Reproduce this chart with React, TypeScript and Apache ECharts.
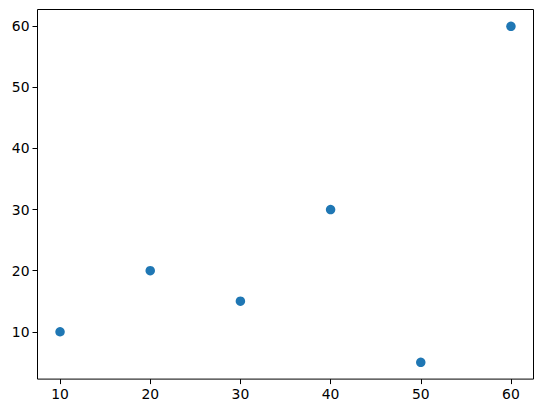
import React, { useEffect, useRef } from "react";
import * as echarts from "echarts";

const xValues = [10, 20, 30, 40, 50, 60];
const yValues = [10, 20, 15, 30, 5, 60];
const xTicks = [10, 20, 30, 40, 50, 60];
const yTicks = [10, 20, 30, 40, 50, 60];

export default function App() {
  const ref = useRef<HTMLDivElement>(null);
  useEffect(() => {
    if (!ref.current) return;
    const chart = echarts.init(ref.current, undefined, { renderer: "svg" });
    const font = "DejaVu Sans";
    chart.setOption({
      animation: false,
      backgroundColor: "#ffffff",
      grid: {
        left: 37.5,
        top: 9.5,
        width: 496,
        height: 369.6,
        show: true,
        borderColor: "#000000",
        borderWidth: 1,
        backgroundColor: "transparent",
      },
      xAxis: {
        type: "value",
        min: 7.5,
        max: 62.5,
        axisLine: { show: false },
        splitLine: { show: false },
        axisTick: {
          show: true,
          inside: false,
          length: 5,
          lineStyle: { color: "#000", width: 1 },
          customValues: xTicks,
        },
        axisLabel: {
          show: true,
          margin: 8,
          color: "#000",
          fontFamily: font,
          fontSize: 13.9,
          customValues: xTicks,
        },
      },
      yAxis: {
        type: "value",
        min: 2.25,
        max: 62.75,
        axisLine: { show: false },
        splitLine: { show: false },
        axisTick: {
          show: true,
          inside: false,
          length: 5,
          lineStyle: { color: "#000", width: 1 },
          customValues: yTicks,
        },
        axisLabel: {
          show: true,
          margin: 8,
          color: "#000",
          fontFamily: font,
          fontSize: 13.9,
          customValues: yTicks,
        },
      },
      series: [
        {
          type: "scatter",
          data: xValues.map((x, i) => [x, yValues[i]]),
          symbol: "circle",
          symbolSize: 9.5,
          itemStyle: { color: "#1f77b4", opacity: 1 },
        },
      ],
    });
    return () => chart.dispose();
  }, []);
  return (
    <div
      ref={ref}
      style={{ position: "fixed", left: 0, top: 0, width: 543, height: 413 }}
    />
  );
}
